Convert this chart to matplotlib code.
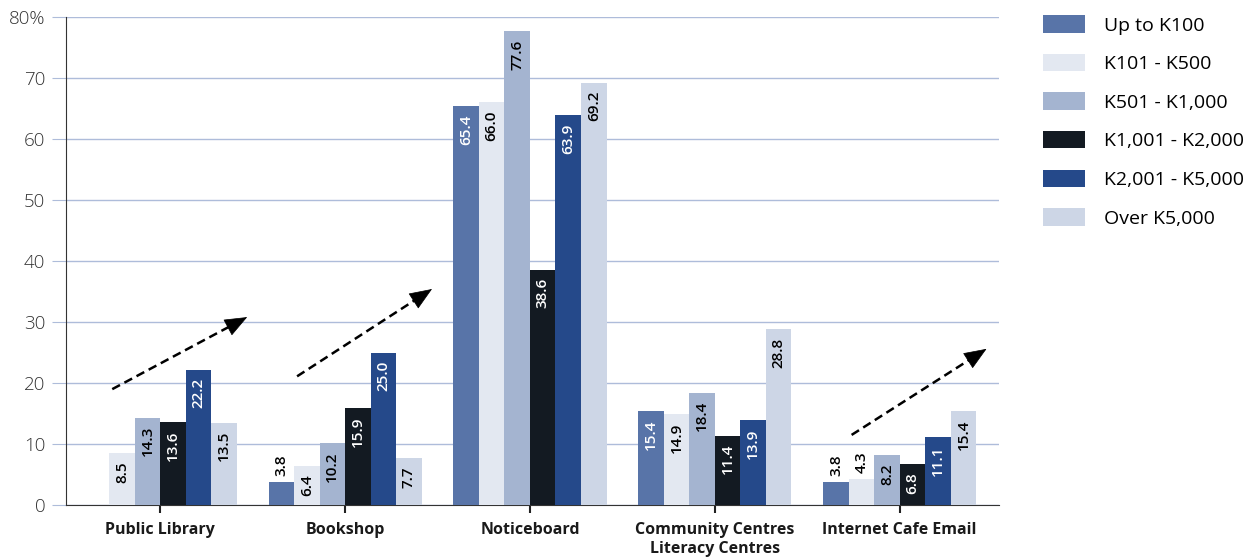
import numpy as np
import matplotlib.pyplot as plt

plt.rcParams['font.family'] = ['Open Sans', 'DejaVu Sans']

# Data (% of respondents), by income band
categories = ['Public Library', 'Bookshop', 'Noticeboard',
              'Community Centres\nLiteracy Centres', 'Internet Cafe Email']
bands = ['Up to K100', 'K101 - K500', 'K501 - K1,000',
         'K1,001 - K2,000', 'K2,001 - K5,000', 'Over K5,000']
up_to_100 = [np.nan, 3.8, 65.4, 15.4, 3.8]
k101_500 = [8.5, 6.4, 66.0, 14.9, 4.3]
k501_1000 = [14.3, 10.2, 77.6, 18.4, 8.2]
k1001_2000 = [13.6, 15.9, 38.6, 11.4, 6.8]
k2001_5000 = [22.2, 25.0, 63.9, 13.9, 11.1]
over_5000 = [13.5, 7.7, 69.2, 28.8, 15.4]
series = [up_to_100, k101_500, k501_1000, k1001_2000, k2001_5000, over_5000]

# trend arrows: (category index, start value, end value)
trends = [(0, 19.0, 30.8), (1, 21.1, 35.4), (4, 11.5, 25.6)]

colors = ['#5874a8', '#e3e8f1', '#a4b4d0', '#131a22', '#25498a', '#cdd6e6']
text_colors = ['white', 'black', 'black', 'white', 'white', 'black']

fig = plt.figure(figsize=(12.58, 5.6), dpi=100)
ax = fig.add_axes([0.0525, 0.098, 0.742, 0.872])

x = np.arange(len(categories))
width = 0.138
for i, (vals, c) in enumerate(zip(series, colors)):
    pos = x + (i - 2.5) * width
    ax.bar(pos, vals, width, color=c, label=bands[i], zorder=3)
    for p, v in zip(pos, vals):
        if np.isnan(v):
            continue
        if v < 5:
            ax.annotate(f'{v:.1f}', (p, v), xytext=(0, 4), textcoords='offset points',
                        rotation=90, ha='center', va='bottom', fontsize=11,
                        color='black', fontweight='semibold', zorder=4)
        else:
            ax.annotate(f'{v:.1f}', (p, v), xytext=(0, -6), textcoords='offset points',
                        rotation=90, ha='center', va='top', fontsize=11,
                        color=text_colors[i], fontweight='semibold', zorder=4)

# dashed trend arrows: dashed shaft plus a solid head at the end
for idx, y0, y1 in trends:
    x0, x1 = idx - 0.26, idx + 0.47
    ax.plot([x0, x1 - 0.06], [y0, y1 - 0.06 / (x1 - x0) * (y1 - y0)],
            color='black', lw=1.8, linestyle=(0, (3.5, 2)), zorder=5)
    ax.annotate('', xy=(x1, y1), xytext=(x1 - 0.08, y1 - 0.08 / (x1 - x0) * (y1 - y0)),
                arrowprops=dict(arrowstyle='-|>,head_length=1.5,head_width=0.6',
                                lw=0.5, color='black', shrinkA=0, shrinkB=0),
                zorder=5)

ax.set_xlim(-0.51, 4.54)
ax.set_ylim(0, 80)
ax.set_yticks(range(0, 81, 10))
ax.set_yticklabels([str(v) for v in range(0, 80, 10)] + ['80%'], fontsize=13.5,
                   color='#333333', fontweight='light')
ax.set_xticks(x)
ax.set_xticklabels(categories, fontsize=11.5, fontweight='bold', color='#1a1a1a',
                   linespacing=1.3)
ax.yaxis.grid(True, color='#aebcda', lw=1, zorder=0)
ax.tick_params(axis='y', length=10, color='#aebcda', pad=5)
ax.tick_params(axis='x', length=6, width=1.5, color='#222222', pad=6)
for s in ['top', 'right']:
    ax.spines[s].set_visible(False)
ax.spines['left'].set_color('#333333')
ax.spines['bottom'].set_color('#333333')

fig.legend(loc='upper left', bbox_to_anchor=(0.815, 1.004), frameon=False,
           fontsize=14, handlelength=2.15, handleheight=1.0, labelspacing=0.99,
           handletextpad=1.0)

fig.savefig('out.png', dpi=100)
